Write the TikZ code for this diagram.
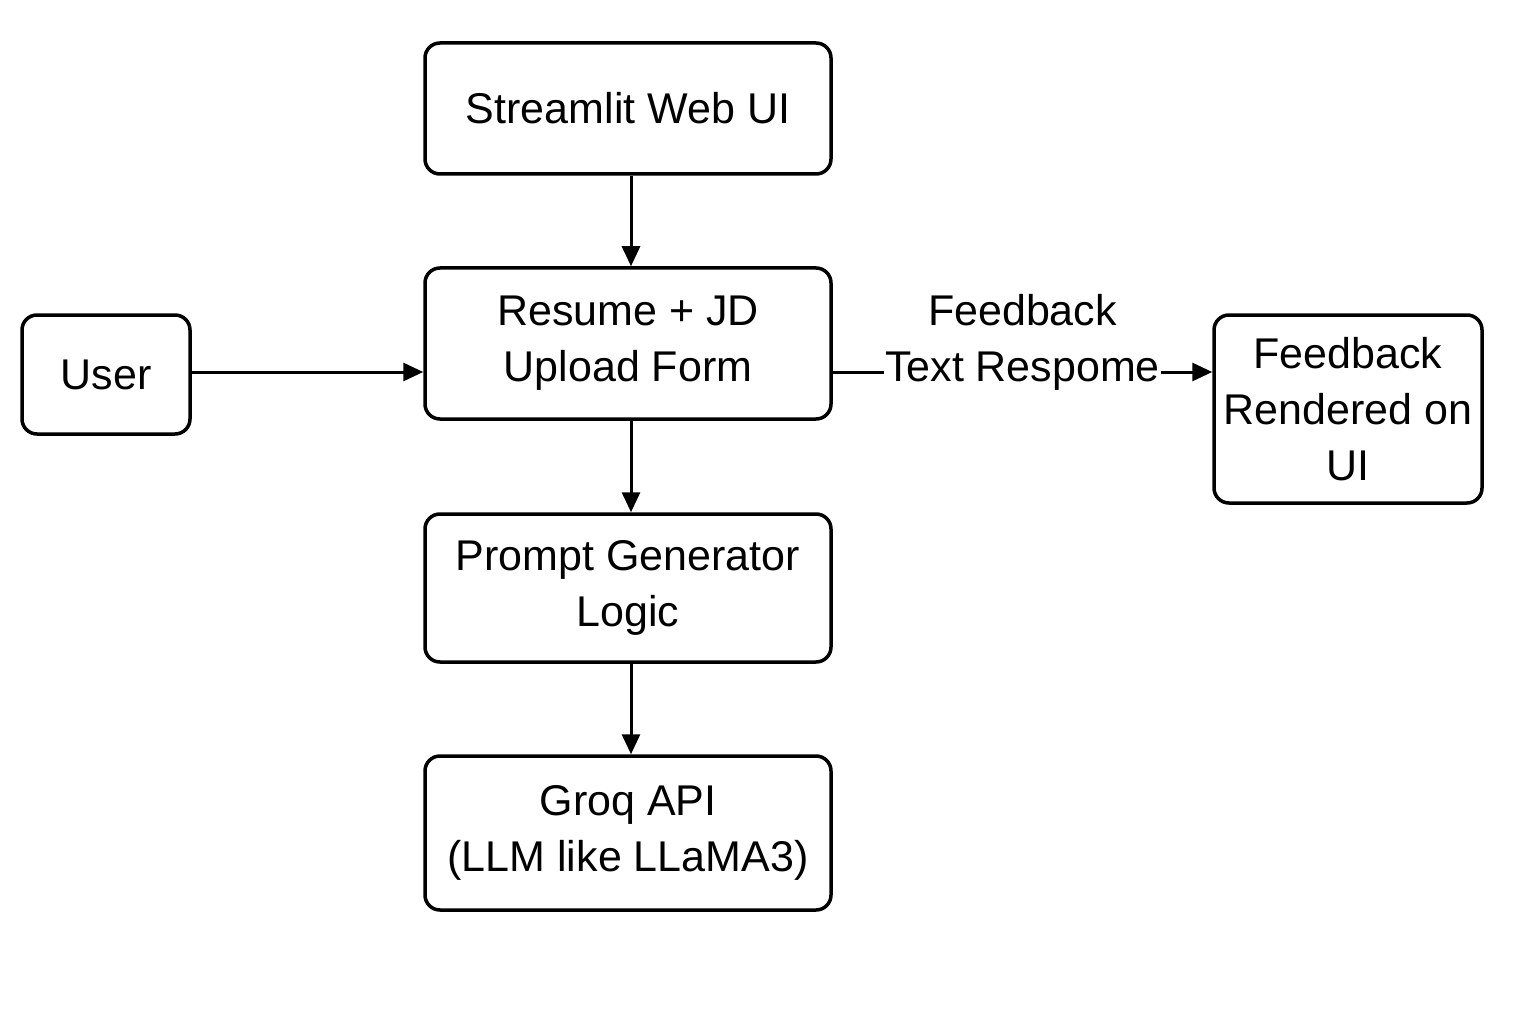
\documentclass[tikz,border=0pt]{standalone}
\usepackage{fontspec}
\setmainfont{Liberation Sans}
\usetikzlibrary{arrows.meta}
\begin{document}
\begin{tikzpicture}[x=1pt,y=-1pt,
  box/.style={draw=black, line width=3.5pt, rounded corners=15pt, align=center,
    font=\fontsize{43}{56}\selectfont, inner sep=0pt},
  conn/.style={line width=3pt, -{Triangle[length=20pt,width=18pt]}},
  lbl/.style={font=\fontsize{43}{56}\selectfont, align=center, fill=white, inner sep=1pt}]
\useasboundingbox (0,0) rectangle (1536,1024);
\node[box, minimum width=406pt, minimum height=131pt] (web) at (628,108.5) {Streamlit Web UI};
\node[box, minimum width=406pt, minimum height=151pt] (form) at (628,343.5) {Resume + JD\\Upload Form};
\node[box, minimum width=406pt, minimum height=148pt] (prompt) at (628,588) {Prompt Generator\\Logic};
\node[box, minimum width=406pt, minimum height=154pt] (groq) at (628,833) {Groq API\\(LLM like LLaMA3)};
\node[box, minimum width=168pt, minimum height=119pt] (user) at (106,374.5) {User};
\node[box, minimum width=268pt, minimum height=188pt] (fb) at (1348,409) {Feedback\\Rendered on\\UI};
\coordinate (hy) at (0,372);
\draw[conn] ([xshift=3pt]web.south) -- ([xshift=3pt]form.north);
\draw[conn] ([xshift=3pt]form.south) -- ([xshift=3pt]prompt.north);
\draw[conn] ([xshift=3pt]prompt.south) -- ([xshift=3pt]groq.north);
\draw[conn] (user.east |- hy) -- (form.west |- hy);
\draw[conn] (form.east |- hy) -- (fb.west |- hy)
  node[lbl, pos=0.5, yshift=30pt, xshift=0pt] (lab) {Feedback\\Text Respome};
\end{tikzpicture}
\end{document}
